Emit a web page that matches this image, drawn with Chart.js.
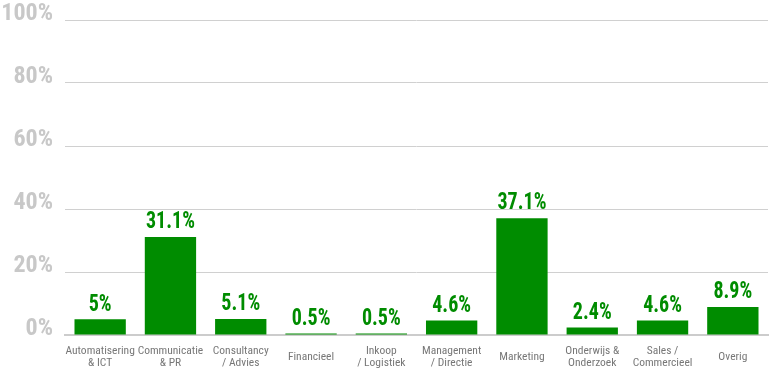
<!DOCTYPE html>
<html>
<head>
<meta charset="utf-8">
<script src="https://cdn.jsdelivr.net/npm/chart.js@4/dist/chart.umd.min.js"></script>
<style>
  html, body { margin: 0; padding: 0; background: #fff; }
  #wrap { width: 770px; height: 370px; position: relative; }
</style>
</head>
<body>
<div id="wrap"><canvas id="sectorChart"></canvas></div>
<script>
// Sectors (x axis) and share per sector, in percent
const sectors = [
    ['Automatisering', '& ICT'],
    ['Communicatie', '& PR'],
    ['Consultancy', '/ Advies'],
    'Financieel',
    ['Inkoop', '/ Logistiek'],
    ['Management', '/ Directie'],
    'Marketing',
    ['Onderwijs &', 'Onderzoek'],
    ['Sales /', 'Commercieel'],
    'Overig'
];
const shares = [5, 31.1, 5.1, 0.5, 0.5, 4.6, 37.1, 2.4, 4.6, 8.9];
const yTicks = [0, 20, 40, 60, 80, 100];

const GREEN = '#008c00';
const CONDENSED = '"Roboto Condensed", "Liberation Sans Narrow", "DejaVu Sans Condensed", sans-serif';

// Draws the percentage above every bar (slightly squeezed, like the original)
const valueLabels = {
    id: 'valueLabels',
    afterDatasetsDraw(chart) {
        const ctx = chart.ctx;
        const meta = chart.getDatasetMeta(0);
        ctx.save();
        ctx.font = 'bold 23px ' + CONDENSED;
        ctx.fillStyle = GREEN;
        ctx.textAlign = 'center';
        ctx.textBaseline = 'bottom';
        meta.data.forEach((bar, i) => {
            ctx.save();
            ctx.translate(bar.x, bar.y - 3);
            ctx.scale(0.87, 1);
            ctx.fillText(shares[i] + '%', 0, 0);
            ctx.restore();
        });
        ctx.restore();
    }
};

const ctx = document.getElementById('sectorChart');
new Chart(ctx, {
    type: 'bar',
    data: {
        labels: sectors,
        datasets: [{
            data: shares,
            backgroundColor: GREEN,
            borderWidth: 0,
            barPercentage: 0.73,
            categoryPercentage: 1
        }]
    },
    options: {
        responsive: true,
        maintainAspectRatio: false,
        animation: false,
        layout: { padding: { top: 20, left: 0, right: 2, bottom: 0 } },
        plugins: {
            legend: { display: false },
            tooltip: { enabled: false }
        },
        scales: {
            x: {
                grid: { display: false },
                border: { display: true, color: '#cccccc', width: 2 },
                afterFit: s => {
                    s.height = 35;
                    s.paddingLeft = 0;
                    s.paddingRight = 0;
                },
                ticks: {
                    color: '#777777',
                    font: { family: CONDENSED, size: 11.5, lineHeight: 1.05 },
                    padding: 8,
                    maxRotation: 0,
                    autoSkip: false,
                    crossAlign: 'center'
                }
            },
            y: {
                min: 0,
                max: 100,
                afterBuildTicks: axis => {
                    axis.ticks = yTicks.map(v => ({ value: v }));
                },
                afterFit: s => {
                    s.width = 65;
                    s.paddingTop = 0;
                    s.paddingBottom = 0;
                },
                grid: { color: '#d0d0d0', drawTicks: false, lineWidth: 1 },
                border: { display: false },
                ticks: {
                    color: '#c8c8c8',
                    // empty second line lifts the label so it sits on its grid line
                    font: { family: CONDENSED, size: 24, weight: 'bold', lineHeight: 0.5 },
                    padding: 12,
                    callback: v => [v + '%', '']
                }
            }
        }
    },
    plugins: [valueLabels]
});
</script>
</body>
</html>
